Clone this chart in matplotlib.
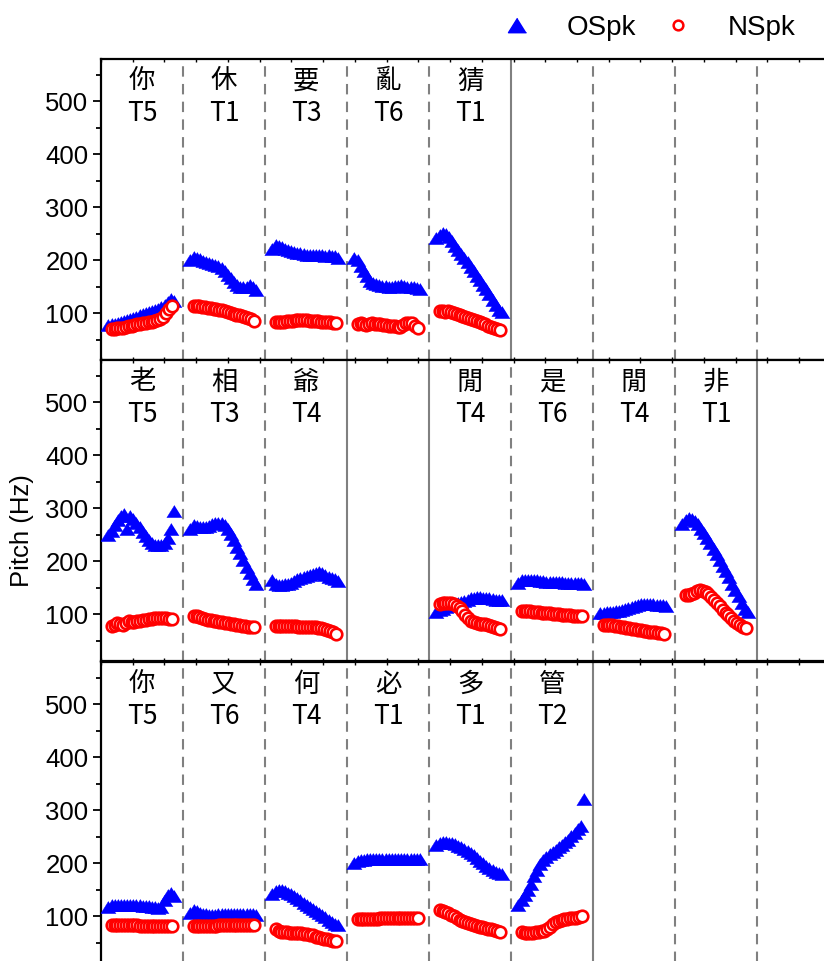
import numpy as np
import matplotlib
matplotlib.use("Agg")
import matplotlib.pyplot as plt
from matplotlib.lines import Line2D
from matplotlib.ticker import MultipleLocator

# syllables and tone labels, one entry per slot (None = empty slot)
row1_chars = ["你", "休", "要", "亂", "猜", None, None, None, None]
row1_tones = ["T5", "T1", "T3", "T6", "T1", None, None, None, None]
row2_chars = ["老", "相", "爺", None, "閒", "是", "閒", "非", None]
row2_tones = ["T5", "T3", "T4", None, "T4", "T6", "T4", "T1", None]
row3_chars = ["你", "又", "何", "必", "多", "管", None, None, None]
row3_tones = ["T5", "T6", "T4", "T1", "T1", "T2", None, None, None]

# slot boundaries drawn solid (phrase breaks); the rest are dashed
row1_solid = [5]
row2_solid = [3, 4, 8]
row3_solid = [6]

# pitch tracks (Hz), original speaker
row1_ospk = [
    [78, 79, 80, 82, 84, 86, 88, 90, 92, 94, 96, 98, 100, 102, 104, 106, 109, 112, 116, 121, 127, 124],
    [200, 207, 205, 202, 199, 197, 195, 193, 192, 190, 186, 180, 173, 166, 159, 153, 150, 149, 150, 153, 150, 145],
    [222, 229, 228, 225, 222, 220, 218, 216, 214, 213, 212, 211, 210, 210, 211, 211, 210, 209, 210, 209, 208, 205],
    [205, 200, 190, 180, 170, 162, 157, 155, 153, 152, 151, 150, 150, 151, 152, 153, 152, 150, 149, 150, 148, 146],
    [242, 248, 252, 250, 244, 236, 228, 220, 212, 204, 196, 188, 180, 171, 163, 154, 146, 137, 126, 115, 106, 103],
    None, None, None, None,
]
row2_ospk = [
    [250, 258, 268, 278, 286, 290, 262, 285, 280, 272, 264, 256, 248, 240, 234, 231, 230, 231, 235, 245, 262, 296],
    [262, 268, 266, 264, 264, 265, 267, 270, 272, 273, 272, 268, 262, 252, 240, 228, 215, 203, 190, 178, 166, 158],
    [165, 158, 156, 156, 157, 158, 160, 163, 166, 168, 171, 173, 175, 177, 179, 180, 178, 175, 171, 168, 166, 163],
    None,
    [105, 108, 111, 114, 116, 118, 120, 122, 124, 126, 128, 130, 131, 132, 132, 131, 130, 130, 129, 128, 128, 127],
    [160, 164, 165, 165, 165, 164, 164, 163, 163, 162, 162, 162, 161, 161, 161, 160, 160, 160, 160, 159, 159, 158],
    [102, 103, 104, 104, 105, 106, 107, 108, 110, 112, 114, 116, 118, 119, 120, 120, 119, 119, 118, 118, 117, 116],
    [270, 278, 282, 280, 276, 270, 262, 253, 244, 234, 224, 214, 203, 192, 181, 170, 158, 146, 134, 122, 110, 104],
    None,
]
row3_ospk = [
    [118, 121, 122, 122, 121, 121, 122, 122, 122, 121, 121, 120, 120, 119, 118, 117, 116, 118, 130, 140, 145, 138],
    [106, 112, 110, 107, 105, 104, 103, 103, 103, 104, 104, 104, 104, 104, 105, 105, 104, 104, 104, 104, 104, 103],
    [142, 148, 150, 149, 147, 145, 142, 138, 134, 130, 126, 122, 118, 114, 110, 106, 102, 98, 94, 90, 86, 83],
    [200, 204, 206, 207, 208, 208, 209, 209, 209, 209, 209, 209, 209, 209, 209, 209, 209, 208, 208, 208, 208, 208],
    [234, 238, 240, 240, 239, 238, 236, 233, 230, 227, 223, 219, 215, 210, 205, 200, 195, 191, 187, 184, 182, 180],
    [122, 130, 140, 150, 162, 176, 188, 198, 206, 212, 217, 222, 226, 230, 235, 240, 245, 251, 258, 265, 270, 322],
    None, None, None,
]

# pitch tracks (Hz), new speaker
row1_nspk = [
    [71, 71, 72, 72, 73, 74, 76, 77, 78, 79, 80, 81, 82, 83, 84, 85, 87, 89, 94, 100, 108, 114],
    [114, 114, 113, 112, 112, 111, 110, 109, 108, 107, 106, 104, 102, 100, 98, 97, 96, 95, 94, 92, 89, 85],
    [84, 83, 83, 84, 85, 86, 86, 87, 87, 87, 87, 87, 86, 86, 85, 85, 84, 84, 83, 83, 82, 81],
    [80, 81, 79, 78, 80, 81, 80, 79, 79, 78, 78, 77, 77, 76, 75, 74, 78, 81, 82, 81, 77, 73],
    [104, 104, 103, 104, 103, 101, 99, 97, 95, 93, 91, 89, 87, 85, 83, 81, 79, 77, 75, 73, 71, 69],
    None, None, None, None,
]
row2_nspk = [
    [78, 80, 84, 82, 79, 84, 87, 86, 86, 87, 88, 89, 90, 91, 92, 93, 93, 93, 93, 93, 92, 92],
    [96, 96, 95, 93, 92, 90, 89, 88, 87, 86, 85, 84, 83, 82, 81, 80, 79, 78, 78, 77, 77, 77],
    [78, 78, 78, 78, 78, 78, 78, 78, 77, 77, 77, 77, 77, 76, 76, 75, 74, 73, 71, 69, 66, 63],
    None,
    [120, 121, 122, 122, 121, 119, 116, 112, 106, 99, 93, 88, 85, 83, 82, 82, 81, 80, 78, 76, 74, 72],
    [107, 107, 106, 106, 105, 104, 104, 103, 103, 102, 102, 101, 100, 100, 99, 99, 98, 98, 97, 97, 97, 96],
    [80, 80, 79, 79, 78, 78, 77, 76, 75, 74, 73, 72, 71, 70, 69, 68, 67, 66, 66, 65, 64, 63],
    [137, 137, 138, 141, 144, 146, 145, 142, 138, 133, 127, 121, 115, 109, 103, 98, 93, 88, 84, 80, 77, 75],
    None,
]
row3_nspk = [
    [83, 83, 83, 83, 83, 83, 83, 83, 83, 83, 82, 82, 82, 82, 82, 82, 82, 81, 81, 81, 81, 82],
    [81, 81, 81, 81, 82, 82, 82, 82, 82, 83, 83, 83, 83, 83, 83, 84, 84, 84, 84, 84, 84, 84],
    [77, 73, 71, 70, 70, 69, 69, 69, 68, 68, 67, 66, 65, 64, 62, 61, 59, 58, 57, 56, 54, 53],
    [95, 95, 95, 95, 95, 95, 95, 95, 96, 96, 96, 96, 96, 96, 96, 96, 96, 97, 97, 97, 97, 97],
    [112, 110, 108, 106, 103, 100, 97, 94, 91, 89, 87, 85, 83, 81, 80, 79, 78, 77, 76, 74, 73, 71],
    [70, 68, 68, 69, 69, 70, 71, 72, 73, 76, 80, 85, 89, 92, 94, 95, 95, 96, 96, 97, 99, 100],
    None, None, None,
]

rows = [
    (row1_chars, row1_tones, row1_ospk, row1_nspk, row1_solid),
    (row2_chars, row2_tones, row2_ospk, row2_nspk, row2_solid),
    (row3_chars, row3_tones, row3_ospk, row3_nspk, row3_solid),
]

NSLOTS = 9
W_PX, H_PX = 824, 961
TICK_FONT = "Liberation Sans"
CJK_FONT = ["Noto Sans CJK TC", "DejaVu Sans"]
# a slightly squat up-triangle (wider than tall)
TRI = [(0, 0.8), (-1, -0.8), (1, -0.8)]

fig = plt.figure(figsize=(W_PX / 100, H_PX / 100), dpi=100)

left = 101 / W_PX
width = 738 / W_PX       # runs past the right edge of the canvas
panel_h = 301 / H_PX
panel_tops = [59, 360, 662]

for k, ((chars, tones, ospk, nspk, solid), top) in enumerate(zip(rows, panel_tops)):
    ax = fig.add_axes([left, 1 - top / H_PX - panel_h, width, panel_h])
    ax.set_xlim(0, NSLOTS)
    ax.set_ylim(12, 580)

    # slot separators
    for b in range(1, NSLOTS):
        if b in solid:
            ax.axvline(b, color="#808080", lw=1.5, zorder=1)
        else:
            ax.axvline(b, color="#808080", lw=1.5, ls=(0, (5, 3.5)), zorder=1)

    for i, vals in enumerate(ospk):
        if vals is None:
            continue
        x = i + np.linspace(0.09, 0.89, len(vals))
        ax.plot(x, vals, ls="none", marker=TRI, ms=11, color="#0000ff",
                mec="#0000ff", mew=0.3, zorder=3)
    for i, vals in enumerate(nspk):
        if vals is None:
            continue
        x = i + np.linspace(0.13, 0.86, len(vals))
        ax.plot(x, vals, ls="none", marker="o", ms=8.3, mfc="white",
                mec="#ff0000", mew=1.9, zorder=4)

    for i, (c, t) in enumerate(zip(chars, tones)):
        if c is None:
            continue
        ax.text(i + 0.5, 1 - 22 / 301, c, transform=ax.get_xaxis_transform(),
                ha="center", va="center", fontsize=19, family=CJK_FONT)
        ax.text(i + 0.5, 1 - 55 / 301, t, transform=ax.get_xaxis_transform(),
                ha="center", va="center", fontsize=19, family=CJK_FONT)

    ax.set_yticks([100, 200, 300, 400, 500])
    ax.yaxis.set_minor_locator(MultipleLocator(50))
    ax.tick_params(axis="y", which="major", direction="out", length=6, width=1.3,
                   labelsize=18.5, pad=3)
    ax.tick_params(axis="y", which="minor", direction="out", length=3.5, width=1.3)
    for lab in ax.get_yticklabels():
        lab.set_family(TICK_FONT)

    ax.xaxis.set_major_locator(MultipleLocator(0.387))
    ax.xaxis.set_minor_locator(plt.NullLocator())
    ax.tick_params(axis="x", which="major", direction="in", length=2.5, width=1,
                   top=True, bottom=(k < 2), labelbottom=False)

    for side in ["left", "top", "bottom"]:
        ax.spines[side].set_linewidth(1.6)
    ax.spines["right"].set_visible(False)

fig.text(22.5 / W_PX, 1 - 531 / H_PX, "Pitch (Hz)", rotation=90, ha="center",
         va="center", fontsize=18.5, family=TICK_FONT)

handles = [
    Line2D([], [], ls="none", marker=TRI, ms=13, color="#0000ff", label="OSpk"),
    Line2D([], [], ls="none", marker="o", ms=7, mfc="white", mec="#ff0000",
           mew=1.8, label="NSpk"),
]
fig.legend(handles=handles, loc="center", bbox_to_anchor=(648 / W_PX, 1 - 28 / H_PX),
           ncol=2, frameon=False, handletextpad=1.2, columnspacing=0.9,
           handlelength=1.2, prop={"family": ["Liberation Sans Narrow", "Liberation Sans"], "size": 20})

fig.savefig("out.png", dpi=100)
